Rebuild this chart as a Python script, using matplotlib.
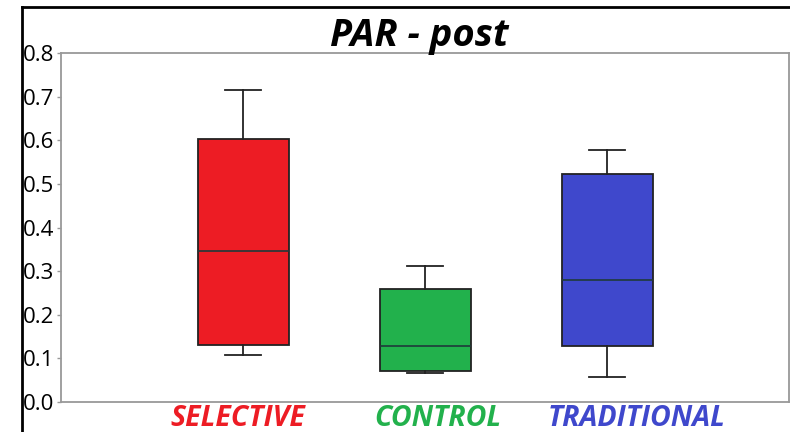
import matplotlib
matplotlib.use('Agg')
import matplotlib.pyplot as plt
from matplotlib.lines import Line2D

# ----------------
# DATA
# ----------------

groups = ['SELECTIVE', 'CONTROL', 'TRADITIONAL']
whisker_low = [0.108, 0.066, 0.057]
q1 = [0.130, 0.071, 0.128]
median = [0.346, 0.128, 0.279]
q3 = [0.603, 0.258, 0.523]
whisker_high = [0.715, 0.312, 0.578]
colors = ['#ED1C24', '#22B14C', '#3F48CC']

# ----------------
# PLOT
# ----------------

plt.rcParams['font.family'] = ['Open Sans', 'DejaVu Sans']

fig = plt.figure(figsize=(7.9, 4.32), dpi=100)
ax = fig.add_axes([61 / 790, 30 / 432, 728 / 790, 349 / 432])

stats = []
for i, g in enumerate(groups):
    stats.append({'label': g, 'whislo': whisker_low[i], 'q1': q1[i], 'med': median[i],
                  'q3': q3[i], 'whishi': whisker_high[i], 'fliers': []})

bp = ax.bxp(stats, positions=[1, 2, 3], widths=0.5, patch_artist=True, showfliers=False,
            boxprops=dict(edgecolor='#222222', linewidth=1.3),
            medianprops=dict(color='#1f3a3a', linewidth=1.2),
            whiskerprops=dict(color='#222222', linewidth=1.3),
            capprops=dict(color='#222222', linewidth=1.3),
            capwidths=0.2)
for patch, c in zip(bp['boxes'], colors):
    patch.set_facecolor(c)

ax.set_xlim(0, 4)
ax.set_ylim(0, 0.8)
ax.set_yticks([0.0, 0.1, 0.2, 0.3, 0.4, 0.5, 0.6, 0.7, 0.8])
ax.set_yticklabels(['%.1f' % v for v in ax.get_yticks()], fontsize=16)
ax.set_xticks([])
ax.tick_params(axis='y', length=3, width=1, color='#999999', pad=2)
for s in ax.spines.values():
    s.set_color('#999999')
    s.set_linewidth(1.3)

# category labels under the boxes
label_x = [0.97, 2.07, 3.16]
for x, g, c in zip(label_x, groups, colors):
    ax.text(x, -0.07, g, color=c, fontsize=20.5, fontweight='bold', fontstyle='italic',
            ha='center', va='baseline', transform=ax.get_xaxis_transform())

fig.text(419 / 790, 1 - 36 / 432, 'PAR - post', fontsize=27.5, fontweight='bold',
         fontstyle='italic', ha='center', va='center')

# outer black frame (left and top)
fig.add_artist(Line2D([22 / 790, 22 / 790], [0, 1 - 7 / 432], color='black', linewidth=2,
                      transform=fig.transFigure))
fig.add_artist(Line2D([22 / 790, 1], [1 - 7 / 432, 1 - 7 / 432], color='black', linewidth=2,
                      transform=fig.transFigure))

fig.savefig('out.png', dpi=100)
